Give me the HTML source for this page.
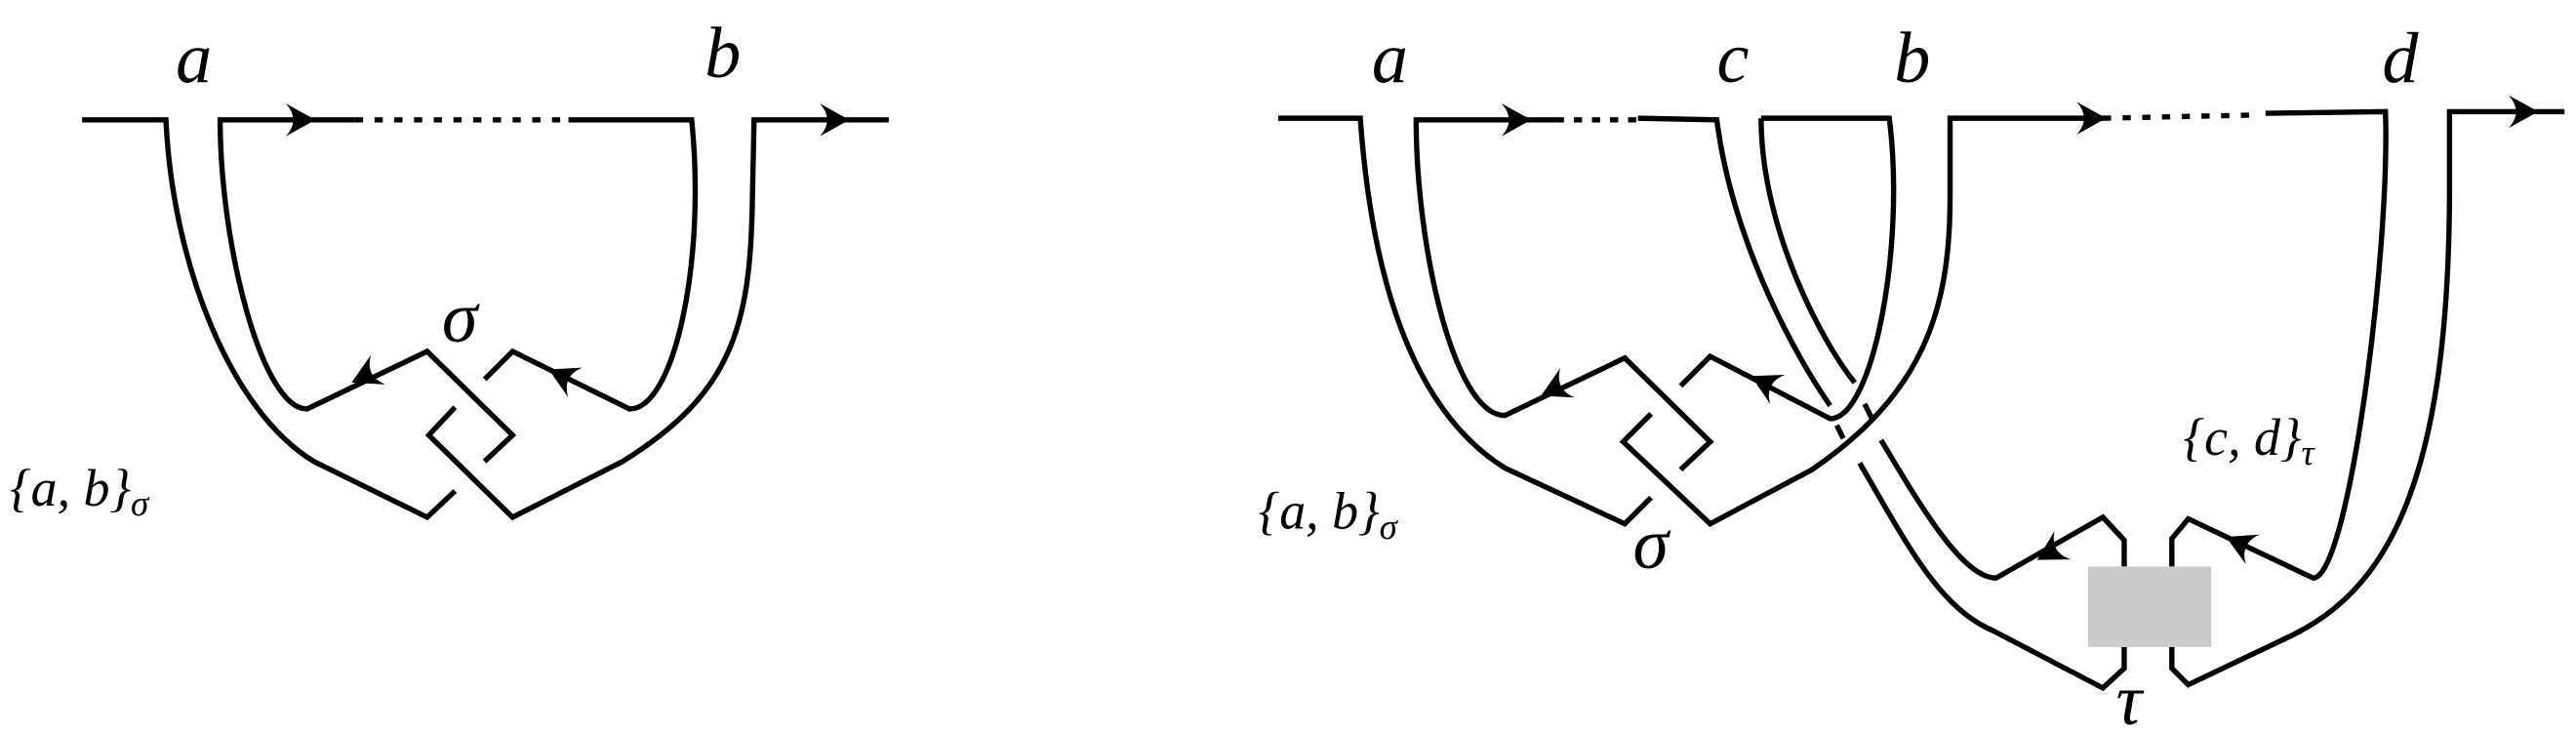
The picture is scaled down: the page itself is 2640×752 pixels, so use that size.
<!DOCTYPE html>
<html><head><meta charset="utf-8"><style>
html,body{margin:0;padding:0;background:#fff;}
svg{display:block;}
text{font-family:"Liberation Serif",serif;font-style:italic;fill:#000;}
</style></head><body>
<svg width="2640" height="752" viewBox="0 0 1568 447" preserveAspectRatio="none" xmlns="http://www.w3.org/2000/svg">
<defs>
<path id="ar" d="M0,0 L-18,-10 Q-9,0 -18,10 Z" fill="#000"/>
</defs>
<g fill="none" stroke="#000" stroke-width="3.2" stroke-linejoin="miter">
<!-- LEFT DIAGRAM -->
<path d="M50,73 L101,73 C105,160 140,250 191,281 L260,315 L277,299"/>
<path d="M216,73 L134,73 C134,150 160,250 187,249 L260,214 L312,265 L295,281"/>
<path d="M277,248 L261,265 L312,315 L379,281 C445,240 457,200 458,120 L459,73 L541,73"/>
<path d="M295,231 L312,214 L383,249 C410,250 430,160 421,73 L346,73"/>
<path d="M216,73 L346,73" stroke-dasharray="5,7"/>
<!-- RIGHT DIAGRAM -->
<path d="M778,72 L828,72 C835,170 860,250 916,285 L989,319 L1005,303"/>
<path d="M947,73 L862,73 C862,150 885,253 916,253 L989,218 L1041,269 L1023,286"/>
<path d="M947,73 L997,73" stroke-dasharray="5,6"/>
<path d="M997,72 L1045,73 C1055,150 1095,220 1114,247"/>
<path d="M1118,259 L1122,267"/>
<path d="M1132,282 C1160,330 1180,370 1213,384 L1280,419 L1293,407 L1293,394"/>
<path d="M1072,72 C1072,140 1110,210 1129,233"/>
<path d="M1135,246 L1140,256"/>
<path d="M1145,268 C1170,310 1195,352 1215,352 L1280,315 L1293,329 L1293,345"/>
<path d="M1072,72 L1150,72 C1160,150 1140,255 1114,255 L1041,217 L1023,235"/>
<path d="M1005,252 L988,269 L1041,319 L1103,286 C1170,240 1187,190 1187,120 L1187,72 L1280,72"/>
<path d="M1280,72 L1375,70" stroke-dasharray="5,7"/>
<path d="M1379,69 L1452,68 C1455,150 1430,352 1408,352 L1332,316 L1322,328 L1322,345"/>
<path d="M1561,68 L1491,68 L1491,120 C1490,300 1450,360 1395,387 L1332,417 L1322,407 L1322,394"/>
</g>
<rect x="1271" y="345" width="75" height="49" fill="#cbcbcb"/>
<!-- arrows -->
<use href="#ar" transform="translate(192,73)"/>
<use href="#ar" transform="translate(517,73)"/>
<use href="#ar" transform="translate(214,233) rotate(154)"/>
<use href="#ar" transform="translate(334,225) rotate(206)"/>
<use href="#ar" transform="translate(932,73)"/>
<use href="#ar" transform="translate(1282,72)"/>
<use href="#ar" transform="translate(1545,68)"/>
<use href="#ar" transform="translate(938,241) rotate(154)"/>
<use href="#ar" transform="translate(1066,229) rotate(207)"/>
<use href="#ar" transform="translate(1240,341) rotate(150)"/>
<use href="#ar" transform="translate(1355,327) rotate(205)"/>
<!-- labels -->
<g font-size="44">
<text x="107" y="50">a</text>
<text x="429" y="47">b</text>
<text x="269" y="208">σ</text>
<text x="835" y="50">a</text>
<text x="1045" y="50">c</text>
<text x="1153" y="50">b</text>
<text x="1450" y="50">d</text>
<text x="994" y="346">σ</text>
<text x="1288" y="441">τ</text>
</g>
<g font-size="32">
<text x="6" y="308">{<tspan>a</tspan>, <tspan>b</tspan>}<tspan font-size="22" dy="6">σ</tspan></text>
<text x="766" y="322">{<tspan>a</tspan>, <tspan>b</tspan>}<tspan font-size="22" dy="6">σ</tspan></text>
<text x="1329" y="277">{<tspan>c</tspan>, <tspan>d</tspan>}<tspan font-size="22" dy="6">τ</tspan></text>
</g>
</svg>
</body></html>
